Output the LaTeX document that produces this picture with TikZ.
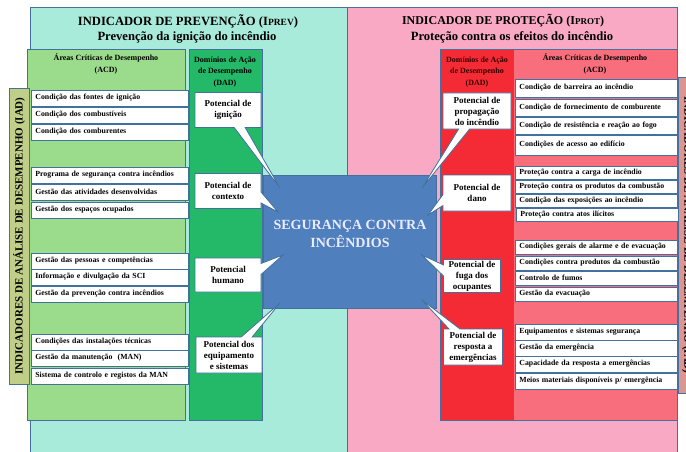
\documentclass[tikz,border=0pt]{standalone}
\usepackage{fontspec}
\setmainfont{Liberation Serif}
\usetikzlibrary{shapes.callouts,positioning}

\definecolor{edge}{HTML}{41719C}
\definecolor{prevbg}{HTML}{A9EBDA}
\definecolor{protbg}{HTML}{F9A9C3}
\definecolor{acdgreen}{HTML}{9BDC8C}
\definecolor{dadgreen}{HTML}{23B969}
\definecolor{iadgreen}{HTML}{BFCF87}
\definecolor{dadred}{HTML}{F42A34}
\definecolor{acdred}{HTML}{F86E7D}
\definecolor{iadred}{HTML}{DA9694}
\definecolor{core}{HTML}{4F7FBC}

\begin{document}
\begin{tikzpicture}[x=1pt, y=-1pt, font=\bfseries]
    \tikzset{
        panel/.style    =   { draw=edge
                            , line width=0.8pt
        }
        , item/.style   =   { rectangle
                            , draw=edge
                            , fill=white
                            , line width=0.8pt
                            , anchor=west
                            , align=left
                            , inner xsep=4pt
                            , inner ysep=0pt
                            , minimum height=16pt
                            , font=\fontsize{7.8}{8}\selectfont\bfseries
        }
        , bubble/.style =   { rectangle callout
                            , draw=edge
                            , fill=white
                            , line width=0.8pt
                            , align=center
                            , inner sep=0.5pt
                            , callout pointer width=11pt
                            , font=\fontsize{9}{11}\selectfont\bfseries
        }
        , head/.style   =   { align=center
                            , font=\fontsize{8}{11.5}\selectfont\bfseries
        }
        , iad/.style    =   { draw=edge
                            , line width=0.8pt
                            , minimum height=20pt
                            , inner sep=0pt
                            , font=\fontsize{11}{12}\selectfont\bfseries
        }
    }
    \useasboundingbox (0,0) rectangle (686,452);
    \clip (0,0) rectangle (686,452);

    % panels
    \fill[white] (0,0) rectangle (686,452);
    \draw[panel, fill=prevbg] (30,7) rectangle (347,460);
    \draw[panel, fill=protbg] (347,7) rectangle (677,460);
    \draw[panel, fill=acdgreen] (27,49) rectangle (185,420);
    \draw[panel, fill=dadgreen] (189,49) rectangle (262,420);
    \draw[panel, fill=dadred] (440,49) rectangle (513,420);
    \draw[panel, fill=acdred] (513,49) rectangle (677,420);

    \node(tL)  at (188,21) {\fontsize{12.6}{14}\selectfont INDICADOR DE PREVENÇÃO (I{\fontsize{9.5}{10}\selectfont PREV})};
    \node(tL2) at (187,37) {\fontsize{12.6}{14}\selectfont Prevenção da ignição do incêndio};
    \node(tR)  at (503,21) {\fontsize{12}{14}\selectfont INDICADOR DE PROTEÇÃO (I{\fontsize{9}{10}\selectfont PROT})};
    \node(tR2) at (512,37) {\fontsize{12.6}{14}\selectfont Proteção contra os efeitos do incêndio};

    \node(hL1)[head] at (106,64) {Áreas Críticas de Desempenho\\(ACD)};
    \node(hL2)[head] at (225,72) {Domínios de Ação\\de Desempenho\\(DAD)};
    \node(hR1)[head, text=black!80!red] at (477,72) {Domínios de Ação\\de Desempenho\\(DAD)};
    \node(hR2)[head] at (595,64) {Áreas Críticas de Desempenho\\(ACD)};

    % IAD bars
    \node(iadL)[iad, fill=iadgreen, rotate=90, minimum width=296pt] at (19,236)
        {INDICADORES DE ANÁLISE DE DESEMPENHO (IAD)};
    \node(iadR)[iad, fill=iadred, rotate=-90, minimum width=316pt] at (688,235)
        {INDICADORES DE ANÁLISE DE DESEMPENHO (IAD)};

    % left ACD
    \node(l1)[item, text width=149pt] at (31,98)  {Condição das fontes de ignição};
    \node(l2)[item, text width=149pt] at (31,115) {Condição dos combustíveis};
    \node(l3)[item, text width=149pt] at (31,132) {Condição dos comburentes};
    \node(l4)[item, text width=149pt] at (31,175) {Programa de segurança contra incêndios};
    \node(l5)[item, text width=149pt] at (31,192) {Gestão das atividades desenvolvidas};
    \node(l6)[item, text width=149pt] at (31,210) {Gestão dos espaços ocupados};
    \node(l7)[item, text width=149pt] at (31,261) {Gestão das pessoas e competências};
    \node(l8)[item, text width=149pt] at (31,277) {Informação e divulgação da SCI};
    \node(l9)[item, text width=149pt] at (31,294) {Gestão da prevenção contra incêndios};
    \node(l10)[item, text width=149pt] at (31,342) {Condições das instalações técnicas};
    \node(l11)[item, text width=149pt] at (31,358) {Gestão da manutenção~~(MAN)};
    \node(l12)[item, text width=149pt] at (31,376) {Sistema de controlo e registos da MAN};

    % right ACD
    \node(r1)[item, text width=154pt, minimum height=18pt] at (515,88)  {Condição de barreira ao incêndio};
    \node(r2)[item, text width=154pt, minimum height=17pt] at (515,108) {Condição de fornecimento de comburente};
    \node(r3)[item, text width=154pt, minimum height=17pt] at (515,126) {Condição de resistência e reação ao fogo};
    \node(r4)[item, text width=154pt, minimum height=20pt] at (515,145) {Condições de acesso ao edifício};
    \node(r5)[item, text width=154pt, minimum height=13pt] at (515,173) {Proteção contra a carga de incêndio};
    \node(r6)[item, text width=154pt, minimum height=13pt] at (515,187) {Proteção contra os produtos da combustão};
    \node(r7)[item, text width=154pt, minimum height=13pt] at (515,201) {Condição das exposições ao incêndio};
    \node(r8)[item, text width=154pt, minimum height=13pt] at (516,215) {Proteção contra atos ilícitos};
    \node(r9)[item, text width=154pt, minimum height=14pt] at (515,247) {Condições gerais de alarme e de evacuação};
    \node(r10)[item, text width=154pt, minimum height=14pt] at (515,263) {Condições contra produtos da combustão};
    \node(r11)[item, text width=154pt, minimum height=14pt] at (515,278) {Controlo de fumos};
    \node(r12)[item, text width=154pt, minimum height=14pt] at (515,294) {Gestão da evacuação};
    \node(r13)[item, text width=154pt] at (515,332) {Equipamentos e sistemas segurança};
    \node(r14)[item, text width=154pt] at (515,348) {Gestão da emergência};
    \node(r15)[item, text width=154pt] at (515,364) {Capacidade da resposta a emergências};
    \node(r16)[item, text width=154pt] at (515,381) {Meios materiais disponíveis p/ emergência};

    % core
    \node(sci)[draw=edge, line width=0.8pt, fill=core, minimum width=173pt, minimum height=133pt]
        at (349.5,241.5) {};
    \node(scitxt)[text=white!92!blue, align=center, font=\fontsize{14}{18}\selectfont\bfseries]
        at (350,234) {SEGURANÇA CONTRA\\INCÊNDIOS};

    \coordinate (t1) at (280,188);
    \coordinate (t2) at (278,212);
    \coordinate (t3) at (283,255);
    \coordinate (t4) at (280,303);
    \coordinate (t5) at (422,188);
    \coordinate (t6) at (428,215);
    \coordinate (t7) at (422,255);
    \coordinate (t8) at (422,300);

    \node(d1)[bubble, minimum width=66pt, minimum height=35pt, callout absolute pointer={(t1)}] at (228,110) {Potencial de\\ignição};
    \node(d2)[bubble, minimum width=66pt, minimum height=35pt, callout absolute pointer={(t2)}] at (228,191) {Potencial de\\contexto};
    \node(d3)[bubble, minimum width=66pt, minimum height=34pt, callout absolute pointer={(t3)}] at (228,275) {Potencial\\humano};
    \node(d4)[bubble, minimum width=66pt, minimum height=36pt, callout absolute pointer={(t4)}] at (229,355) {Potencial dos\\equipamento\\e sistemas};
    \node(d5)[bubble, minimum width=68pt, minimum height=36pt, callout absolute pointer={(t5)}] at (477,111) {Potencial de\\propagação\\do incêndio};
    \node(d6)[bubble, minimum width=68pt, minimum height=36pt, callout absolute pointer={(t6)}] at (477,193) {Potencial de\\dano};
    \node(d7)[bubble, minimum width=57pt, minimum height=33pt, callout absolute pointer={(t7)}] at (472,276) {Potencial de\\fuga dos\\ocupantes};
    \node(d8)[bubble, minimum width=59pt, minimum height=36pt, callout absolute pointer={(t8)}] at (473,347) {Potencial de\\resposta a\\emergências};
\end{tikzpicture}
\end{document}
